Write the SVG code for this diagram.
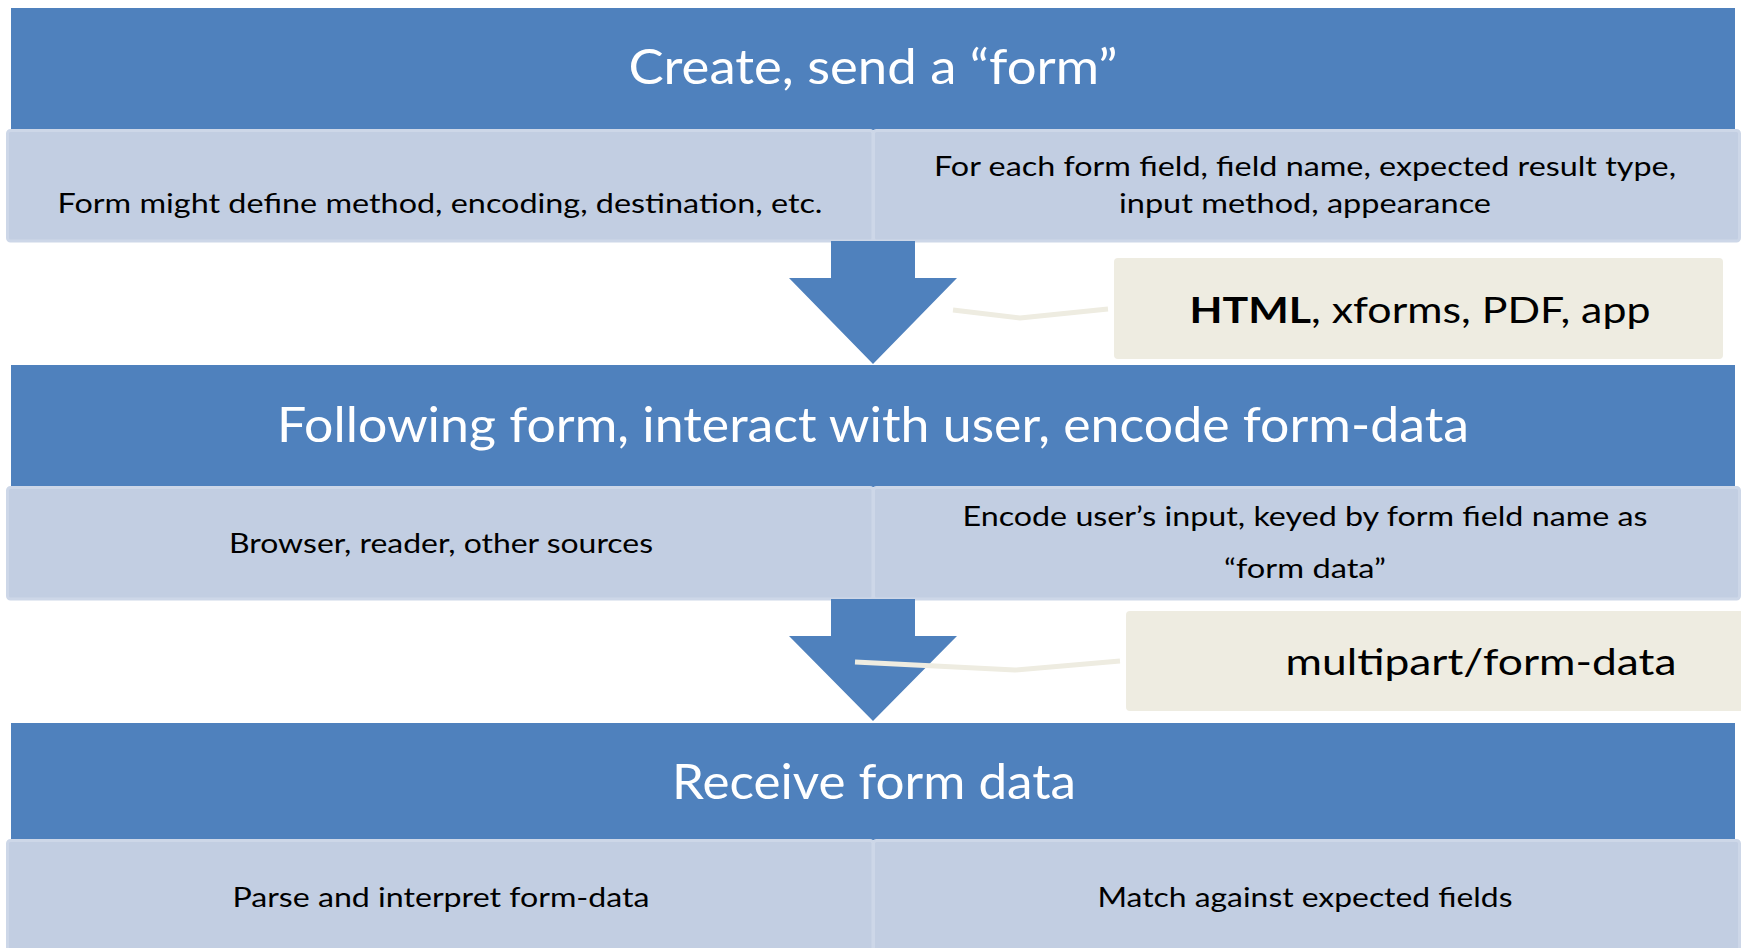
<svg xmlns="http://www.w3.org/2000/svg" width="1741" height="948" viewBox="0 0 1741 948">
<style>
.hdr{fill:#4F81BD}
.cell{fill:#C2CEE2;stroke:#CDD7E8;stroke-width:3}
.note{fill:#EEECE1}
.arrow{fill:#4F81BD}
.link{fill:none;stroke:#EEECE1;stroke-width:5;stroke-linejoin:round}
text{font-family:Lato,"Open Sans","Liberation Sans",sans-serif;text-anchor:middle}
.ht{fill:#FFFFFF;font-size:48px}
.ct{fill:#000000;font-size:27px}
.nt{fill:#000000;font-size:36px}
</style>
<rect width="1741" height="948" fill="#FFFFFF"/>
<g id="step1">
<rect class="hdr" x="11" y="8" width="1724" height="122"/>
<text class="ht" x="873" y="84" textLength="489" lengthAdjust="spacingAndGlyphs">Create, send a “form”</text>
</g>
<g id="step1-left">
<rect class="cell" x="7.5" y="130.5" width="865.5" height="110.5" rx="3"/>
<text class="ct" x="440" y="213" textLength="765" lengthAdjust="spacingAndGlyphs">Form might define method, encoding, destination, etc.</text>
</g>
<g id="step1-right">
<rect class="cell" x="873.5" y="130.5" width="866" height="110.5" rx="3"/>
<text class="ct" x="1305" y="176" textLength="742" lengthAdjust="spacingAndGlyphs">For each form field, field name, expected result type,</text>
<text class="ct" x="1305" y="213" textLength="372" lengthAdjust="spacingAndGlyphs">input method, appearance</text>
</g>
<g id="step2">
<rect class="hdr" x="11" y="365" width="1724" height="122"/>
<text class="ht" x="873" y="442" textLength="1192" lengthAdjust="spacingAndGlyphs">Following form, interact with user, encode form-data</text>
</g>
<g id="step2-left">
<rect class="cell" x="7.5" y="487.5" width="865.5" height="111.5" rx="3"/>
<text class="ct" x="441" y="553" textLength="424" lengthAdjust="spacingAndGlyphs">Browser, reader, other sources</text>
</g>
<g id="step2-right">
<rect class="cell" x="873.5" y="487.5" width="866" height="111.5" rx="3"/>
<text class="ct" x="1305" y="526" textLength="685" lengthAdjust="spacingAndGlyphs">Encode user’s input, keyed by form field name as</text>
<text class="ct" x="1305" y="578" textLength="162" lengthAdjust="spacingAndGlyphs">“form data”</text>
</g>
<g id="step3">
<rect class="hdr" x="11" y="723" width="1724" height="117"/>
<text class="ht" x="874" y="799" textLength="404" lengthAdjust="spacingAndGlyphs">Receive form data</text>
</g>
<g id="step3-left">
<rect class="cell" x="7.5" y="840.5" width="865.5" height="120" rx="3"/>
<text class="ct" x="441" y="907" textLength="417" lengthAdjust="spacingAndGlyphs">Parse and interpret form-data</text>
</g>
<g id="step3-right">
<rect class="cell" x="873.5" y="840.5" width="866" height="120" rx="3"/>
<text class="ct" x="1305" y="907" textLength="415" lengthAdjust="spacingAndGlyphs">Match against expected fields</text>
</g>
<g id="note-html">
<rect class="note" x="1114" y="258" width="609" height="101" rx="4"/>
<text class="nt" x="1420" y="323" textLength="461" lengthAdjust="spacingAndGlyphs"><tspan font-weight="bold">HTML</tspan>, xforms, PDF, app</text>
</g>
<g id="note-multipart">
<rect class="note" x="1126" y="611" width="640" height="100" rx="4"/>
<text class="nt" x="1481" y="675" textLength="391" lengthAdjust="spacingAndGlyphs">multipart/form-data</text>
</g>
<g id="connectors">
<polygon class="arrow" points="831,241 915,241 915,278 957,278 873,364 789,278 831,278"/>
<polygon class="arrow" points="831,599 915,599 915,636 957,636 873,721 789,636 831,636"/>
<polyline class="link" points="953,310 1020,318 1108,309"/>
<polyline class="link" points="855,662 1015,670 1120,661"/>
</g>
</svg>
